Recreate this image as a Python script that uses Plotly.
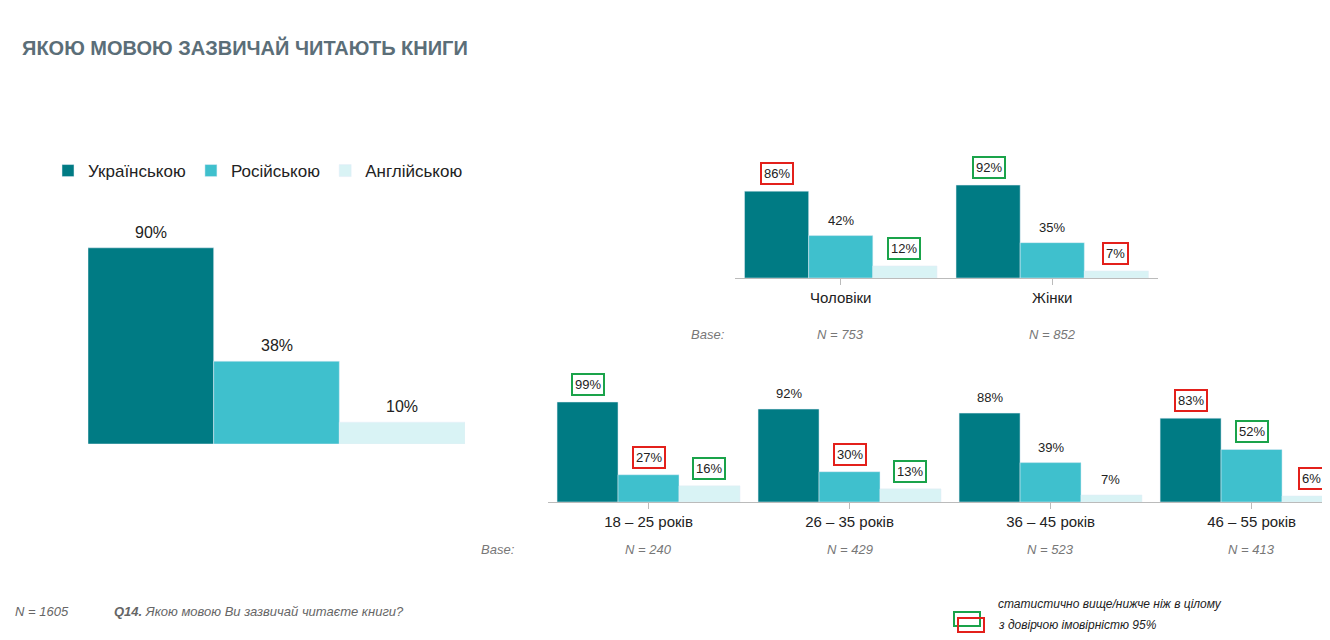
import plotly.graph_objects as go

langs = ["Українською", "Російською", "Англійською"]
colors = ["#007b84", "#3fc0cd", "#d9f3f5"]

total = [90, 38, 10]

gender = ["Чоловіки", "Жінки"]
gender_vals = [[86, 92], [42, 35], [12, 7]]
gender_flags = [["r", "g"], ["", ""], ["g", "r"]]
gender_n = ["N = 753", "N = 852"]

ages = ["18 – 25 років", "26 – 35 років", "36 – 45 років", "46 – 55 років"]
age_vals = [[99, 92, 88, 83], [27, 30, 39, 52], [16, 13, 7, 6]]
age_flags = [["g", "", "", "r"], ["r", "r", "", "g"], ["g", "g", "", "r"]]
age_n = ["N = 240", "N = 429", "N = 523", "N = 413"]

W, H = 1330, 640
def px(x): return x / W
def py(y): return 1 - y / H

fig = go.Figure()
annots = []
box = {"g": "#1aa34a", "r": "#e3201b"}

# left overall chart
for i, name in enumerate(langs):
    fig.add_trace(go.Bar(x=[name], y=[total[i]], marker_color=colors[i], name=name,
                         xaxis="x", yaxis="y", width=1, showlegend=True))
    annots.append(dict(x=name, y=total[i], xref="x", yref="y", text=f"{total[i]}%",
                       showarrow=False, yanchor="bottom", yshift=5,
                       font=dict(size=16, color="#222")))

def grouped(cats, vals, flags, xa, ya):
    for i in range(3):
        fig.add_trace(go.Bar(x=cats, y=vals[i], marker_color=colors[i], name=langs[i],
                             xaxis=xa, yaxis=ya, showlegend=False))
        for j, c in enumerate(cats):
            f = flags[i][j]
            annots.append(dict(x=j + (i - 1) * 0.3, y=vals[i][j], xref=xa, yref=ya,
                               text=f"{vals[i][j]}%", showarrow=False, yanchor="bottom",
                               yshift=6, font=dict(size=13, color="#222"),
                               bordercolor=box.get(f, "rgba(0,0,0,0)"), borderwidth=2 if f else 0,
                               borderpad=2))

grouped(gender, gender_vals, gender_flags, "x2", "y2")
grouped(ages, age_vals, age_flags, "x3", "y3")

for j, n in enumerate(gender_n):
    annots.append(dict(x=j, y=py(326), xref="x2", yref="paper", text=f"<i>{n}</i>",
                       showarrow=False, font=dict(size=13, color="#777")))
for j, n in enumerate(age_n):
    annots.append(dict(x=j, y=py(551), xref="x3", yref="paper", text=f"<i>{n}</i>",
                       showarrow=False, font=dict(size=13, color="#777")))
for yy, xx in [(326, 700), (551, 490)]:
    annots.append(dict(x=px(xx), y=py(yy), xref="paper", yref="paper", text="<i>Base:</i>",
                       showarrow=False, font=dict(size=13, color="#777")))

annots += [
    dict(x=px(12), y=py(26), xref="paper", yref="paper", xanchor="left",
         text="<b>ЯКОЮ МОВОЮ ЗАЗВИЧАЙ ЧИТАЮТЬ КНИГИ</b>", showarrow=False,
         font=dict(size=20, color="#5b6e78")),
    dict(x=px(5), y=py(613), xref="paper", yref="paper", xanchor="left",
         text="<i>N = 1605</i>", showarrow=False, font=dict(size=13, color="#666")),
    dict(x=px(104), y=py(613), xref="paper", yref="paper", xanchor="left",
         text="<i><b>Q14.</b> Якою мовою Ви зазвичай читаєте книги?</i>", showarrow=False,
         font=dict(size=13, color="#666")),
    dict(x=px(988), y=py(605), xref="paper", yref="paper", xanchor="left",
         text="<i>статистично вище/нижче ніж в цілому</i>", showarrow=False,
         font=dict(size=12, color="#222")),
    dict(x=px(988), y=py(626), xref="paper", yref="paper", xanchor="left",
         text="<i>з довірчою імовірністю 95%</i>", showarrow=False,
         font=dict(size=12, color="#222")),
]

shapes = [
    dict(type="rect", xref="paper", yref="paper", x0=px(946), x1=px(972), y0=py(618), y1=py(604),
         line=dict(color="#1aa34a", width=2)),
    dict(type="rect", xref="paper", yref="paper", x0=px(950), x1=px(976), y0=py(624), y1=py(610),
         line=dict(color="#e3201b", width=2)),
]

ax_common = dict(showgrid=False, zeroline=False, showticklabels=False, fixedrange=True)
fig.update_layout(
    width=W, height=H, margin=dict(l=0, r=0, t=0, b=0),
    paper_bgcolor="white", plot_bgcolor="white",
    font=dict(family="Liberation Sans, Arial", color="#222"),
    barmode="group", bargap=0.09, bargroupgap=0,
    xaxis=dict(domain=[px(80), px(457)], showticklabels=False, showline=False, range=[-0.5, 2.5]),
    yaxis=dict(domain=[py(436), py(218)], range=[0, 100], **ax_common),
    xaxis2=dict(domain=[px(727), px(1150)], range=[-0.5, 1.5], showline=True, linecolor="#bbb",
                ticks="outside", tickcolor="#bbb", ticklen=6, tickfont=dict(size=15, color="#222"),
                anchor="y2"),
    yaxis2=dict(domain=[py(270), py(169)], range=[0, 100], anchor="x2", **ax_common),
    xaxis3=dict(domain=[px(540), 1], range=[-0.5, 3.43], showline=True, linecolor="#bbb",
                ticks="outside", tickcolor="#bbb", ticklen=6, tickfont=dict(size=15, color="#222"),
                anchor="y3"),
    yaxis3=dict(domain=[py(494), py(393)], range=[0, 100], anchor="x3", **ax_common),
    legend=dict(orientation="h", x=px(40), y=py(163), yanchor="middle", xanchor="left",
                font=dict(size=17), itemwidth=30, traceorder="normal"),
    annotations=annots, shapes=shapes,
)
fig.update_traces(selector=dict(xaxis="x"), width=1)
fig.update_layout(xaxis=dict(showgrid=False, zeroline=False, fixedrange=True))

fig.write_html("out.html")
